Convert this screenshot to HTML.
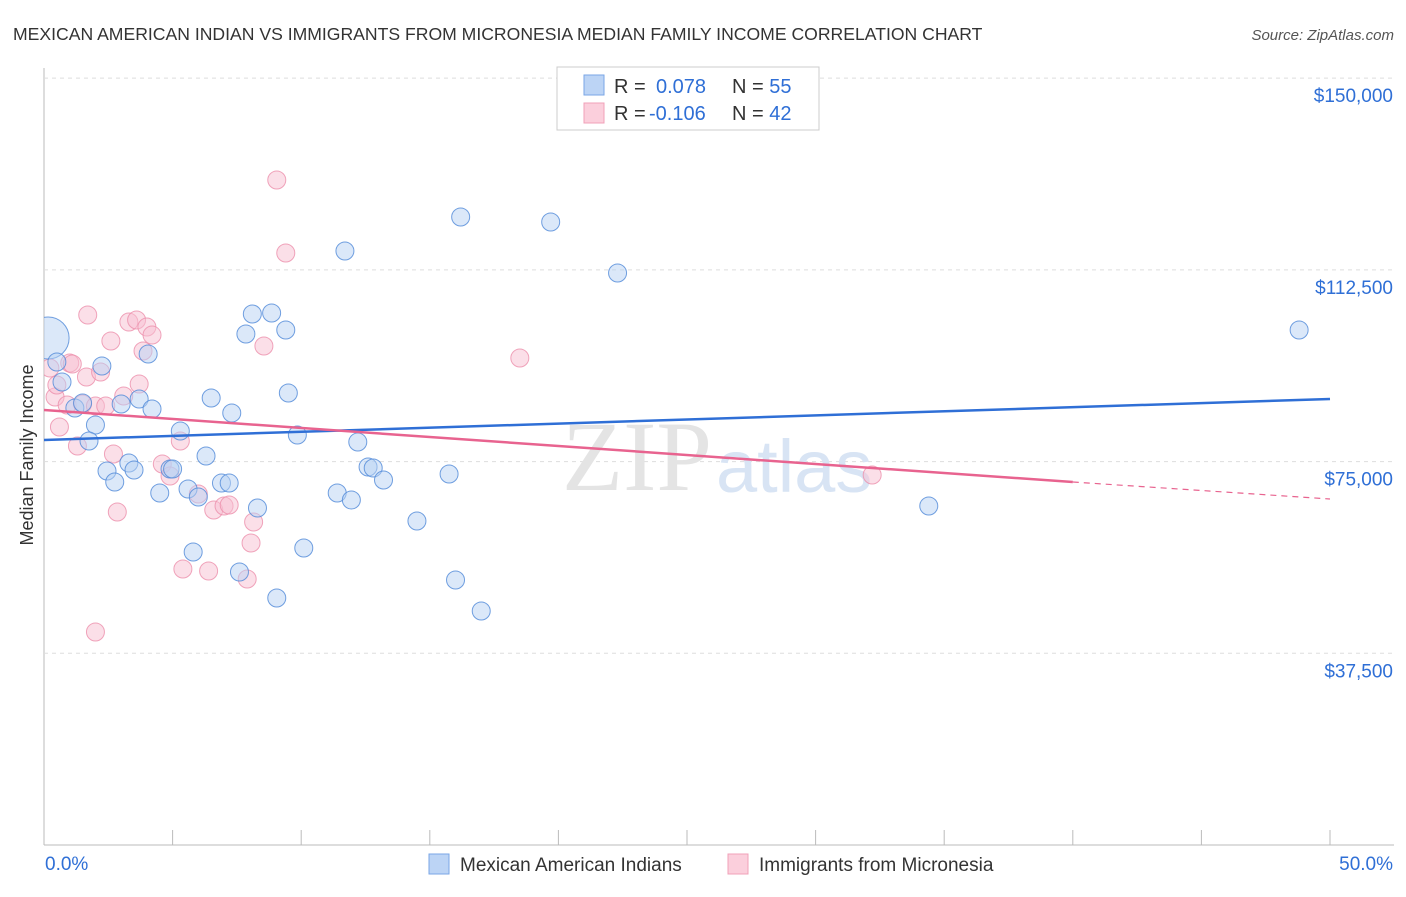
<!DOCTYPE html>
<html><head><meta charset="utf-8"><style>
body{margin:0;background:#fff;font-family:"Liberation Sans",sans-serif}
</style></head><body>
<svg id="chart" width="1406" height="892" xmlns="http://www.w3.org/2000/svg">
<defs><clipPath id="plotclip"><rect x="44" y="60" width="1360" height="786"/></clipPath></defs>
<text x="13" y="40" font-size="17.6" fill="#333">MEXICAN AMERICAN INDIAN VS IMMIGRANTS FROM MICRONESIA MEDIAN FAMILY INCOME CORRELATION CHART</text>
<text x="1394" y="40" font-size="15" fill="#555" font-style="italic" text-anchor="end">Source: ZipAtlas.com</text>
<text x="33" y="455" font-size="18" fill="#333" text-anchor="middle" transform="rotate(-90 33 455)">Median Family Income</text>
<g id="grid"></g>
<text x="712" y="490" font-size="100" fill="#e4e4e4" font-family="Liberation Serif,serif" text-anchor="end">ZIP</text>
<text x="716" y="492" font-size="74" fill="#d8e4f4">atlas</text>
<g id="marks" clip-path="url(#plotclip)"></g>
<g>
<rect x="557" y="67" width="262" height="63" fill="#fff" stroke="#ccc"/>
<rect x="584" y="75" width="20" height="20" fill="#bcd4f5" stroke="#7aa6e6"/>
<rect x="584" y="103" width="20" height="20" fill="#fbcfdc" stroke="#f0a0b8"/>
<text x="614" y="93" font-size="20" fill="#333">R = <tspan x="656" fill="#2f6fd6">0.078</tspan><tspan x="732">N = </tspan><tspan fill="#2f6fd6">55</tspan></text>
<text x="614" y="120" font-size="20" fill="#333">R = <tspan x="649" fill="#2f6fd6">-0.106</tspan><tspan x="732">N = </tspan><tspan fill="#2f6fd6">42</tspan></text>
</g>
<g>
<rect x="429" y="854" width="20" height="20" fill="#bcd4f5" stroke="#7aa6e6"/>
<text x="460" y="871" font-size="19" fill="#333">Mexican American Indians</text>
<rect x="728" y="854" width="20" height="20" fill="#fbcfdc" stroke="#f0a0b8"/>
<text x="759" y="871" font-size="19" fill="#333">Immigrants from Micronesia</text>
</g>
</svg>
<script>
const yTicks=[37500,75000,112500,150000];
const yTickLabels=["$37,500","$75,000","$112,500","$150,000"];
const xTickLabels=["0.0%","50.0%"];
const blueX=[0.16,0.5,0.7,1.2,1.5,2.0,1.75,2.25,3.0,3.7,4.05,4.2,2.45,2.75,3.3,3.5,4.5,4.9,5.0,5.3,5.6,6.0,5.8,6.3,6.5,6.9,7.2,7.3,7.6,8.3,7.85,8.1,8.85,9.05,9.4,9.5,9.85,10.1,11.4,11.7,11.95,12.2,12.6,12.8,13.2,14.5,15.75,16.0,16.2,17.0,19.7,22.3,34.4,48.8];
const blueY=[99170,94475,90560,85480,86450,82150,79020,93690,86260,87240,96040,85280,73150,71000,74720,73350,68850,73540,73540,80980,69630,68070,57310,76090,87430,70800,70800,84500,53400,65920,99950,103860,104060,48310,100730,88410,80200,58090,68850,116190,67480,78830,73940,73740,71390,63370,72570,51830,122840,45770,121860,111880,66310,100730];
const pinkX=[0.23,0.43,0.5,0.6,0.9,1.0,1.1,1.3,1.5,1.7,1.65,2.0,2.0,2.2,2.4,2.6,2.7,2.85,3.1,3.3,3.6,3.7,3.85,4.0,4.2,4.6,4.9,5.3,5.4,6.0,6.4,6.6,7.0,7.2,8.05,8.15,7.9,8.55,9.05,9.4,18.5,32.2];
const pinkY=[93300,87630,89980,81760,86060,94280,94080,78040,86260,103670,91540,85870,41660,92520,85870,98580,76480,65130,87820,102300,102690,90170,96630,101320,99750,74520,72180,79020,53990,68650,53600,65520,66310,66500,59070,63180,52030,97600,130070,115800,95260,72370];
const blueTrend=[79220,87240];
const pinkTrend=[85090,71000,67680];
const X=v=>44+v*25.72, Y=v=>845-v/195.6;
const ns="http://www.w3.org/2000/svg";
const grid=document.getElementById('grid'), marks=document.getElementById('marks');
function mk(tag,attrs,parent){const e=document.createElementNS(ns,tag);for(const k in attrs)e.setAttribute(k,attrs[k]);parent.appendChild(e);return e;}
let ax=mk('line',{x1:44,y1:68,x2:44,y2:845,stroke:'#bbb'},grid);


let xa=mk('line',{x1:44,y1:845,x2:1394,y2:845,stroke:'#bbb'},grid);


for(let i=0;i<=10;i++){let t=mk('line',{x1:X(i*5),y1:830,x2:X(i*5),y2:845,stroke:'#bbb'},grid);

}
yTicks.forEach((v,i)=>{let g=mk('line',{x1:44,y1:Y(v),x2:1394,y2:Y(v),stroke:'#ddd','stroke-dasharray':'4 4'},grid);


let t=mk('text',{x:1393,y:Y(v)+24,'font-size':19,fill:'#2f6fd6','text-anchor':'end'},grid);t.textContent=yTickLabels[i];

});
[[0,45,'start'],[50,1393,'end']].forEach((a,i)=>{let t=mk('text',{x:a[1],y:870,'font-size':19,fill:'#2f6fd6','text-anchor':a[2]},grid);t.textContent=xTickLabels[i];

});
function pts(xs,ys,fill,stroke,name){xs.forEach((x,i)=>{let r=(i===0&&name==='blue-point')?21:9;
let c=mk('circle',{cx:X(x),cy:Y(ys[i]),r:r,fill:fill,'fill-opacity':0.5,stroke:stroke,'stroke-opacity':0.8,'stroke-width':1},marks);

});}
pts(pinkX,pinkY,'#f8c0d2','#ec8fab','pink-point');
pts(blueX,blueY,'#b8d2f4','#4f88d8','blue-point');
let bl=mk('line',{x1:X(0),y1:Y(blueTrend[0]),x2:X(50),y2:Y(blueTrend[1]),stroke:'#2f6fd6','stroke-width':2.5},marks);


let pl=mk('line',{x1:X(0),y1:Y(pinkTrend[0]),x2:X(40),y2:Y(pinkTrend[1]),stroke:'#e8638f','stroke-width':2.5},marks);


let pd=mk('line',{x1:X(40),y1:Y(pinkTrend[1]),x2:X(50),y2:Y(pinkTrend[2]),stroke:'#e8638f','stroke-width':1.2,'stroke-dasharray':'6 5'},marks);


</script>
</body></html>
